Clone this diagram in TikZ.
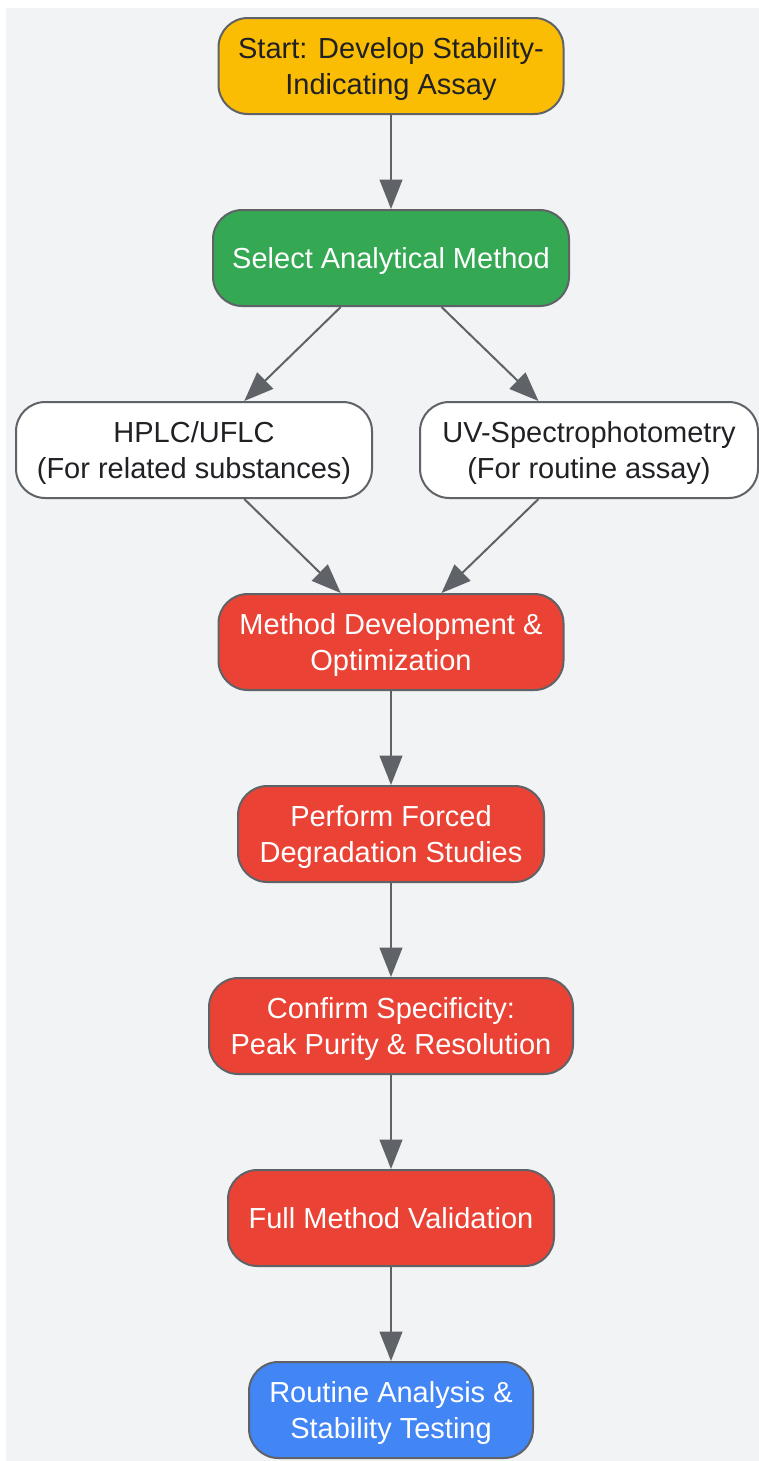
\documentclass[tikz,border=0pt]{standalone}
\usepackage{fontspec}
\setmainfont{Liberation Sans}
\usetikzlibrary{arrows.meta}
\definecolor{bgrey}{HTML}{F1F3F4}
\definecolor{edgegrey}{HTML}{5F6368}
\definecolor{txtdark}{HTML}{202124}
\definecolor{gyellow}{HTML}{FBBC04}
\definecolor{ggreen}{HTML}{34A853}
\definecolor{gred}{HTML}{EA4335}
\definecolor{gblue}{HTML}{4285F4}
\tikzset{
	box/.style={draw=edgegrey, line width=1.5pt, rounded corners=22pt, align=center,
		minimum height=72pt, inner xsep=6pt, inner ysep=0pt, text depth=0pt,
		font=\fontsize{21.75}{27}\selectfont},
	darkbox/.style={box, text=txtdark},
	lightbox/.style={box, text=white},
	flow/.style={draw=edgegrey, line width=1.5pt, -{Triangle[length=22pt, width=17pt]}},
}
\begin{document}
\begin{tikzpicture}[x=0.75pt, y=-0.75pt]
	\useasboundingbox (0,0) rectangle (759,1461);
	\fill[bgrey] (6,8) rectangle (759,1461);
	% nodes
	\node[darkbox, fill=gyellow, minimum width=258.75pt] (start) at (391,66) {Start: Develop Stability-\\Indicating Assay};
	\node[lightbox, fill=ggreen, minimum width=267pt] (select) at (391,258) {Select Analytical Method};
	\node[darkbox, fill=white, minimum width=267pt] (hplc) at (194,450) {HPLC/UFLC\\(For related substances)};
	\node[darkbox, fill=white, minimum width=253.5pt] (uv) at (589,450) {UV-Spectrophotometry\\(For routine assay)};
	\node[lightbox, fill=gred, minimum width=258.75pt] (devel) at (391,642) {Method Development \&\\Optimization};
	\node[lightbox, fill=gred, minimum width=229.5pt] (forced) at (391,834) {Perform Forced\\Degradation Studies};
	\node[lightbox, fill=gred, minimum width=273pt] (confirm) at (391,1026) {Confirm Specificity:\\Peak Purity \& Resolution};
	\node[lightbox, fill=gred, minimum width=244.5pt] (valid) at (391,1218) {Full Method Validation};
	\node[lightbox, fill=gblue, minimum width=213pt] (routine) at (391,1410) {Routine Analysis \&\\Stability Testing};
	% connectors
	\draw[flow] (start) -- (select);
	\draw[flow] (select) -- (hplc);
	\draw[flow] (select) -- (uv);
	\draw[flow] (hplc) -- (devel);
	\draw[flow] (uv) -- (devel);
	\draw[flow] (devel) -- (forced);
	\draw[flow] (forced) -- (confirm);
	\draw[flow] (confirm) -- (valid);
	\draw[flow] (valid) -- (routine);
\end{tikzpicture}
\end{document}
